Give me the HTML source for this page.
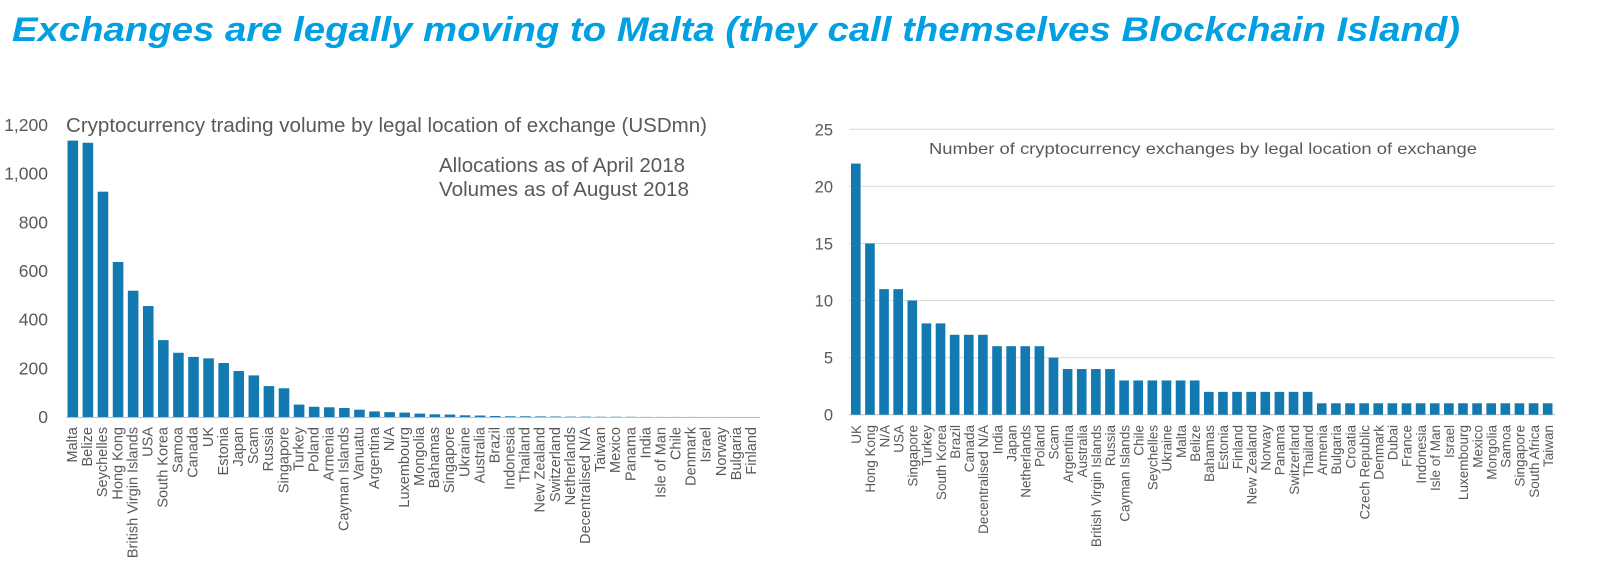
<!DOCTYPE html>
<html><head><meta charset="utf-8"><style>
html,body{margin:0;padding:0;background:#fff;}
svg{display:block;font-family:"Liberation Sans",Arial,sans-serif;}
</style></head><body>
<svg id="s" width="1600" height="568" viewBox="0 0 1600 568">
<text x="12" y="41" font-size="34" font-style="italic" font-weight="bold" fill="#00a0e3" textLength="1448" lengthAdjust="spacingAndGlyphs">Exchanges are legally moving to Malta (they call themselves Blockchain Island)</text>
<g id="left"></g>
<g id="right"></g>
</svg>
<script>
const volCategories=["Malta","Belize","Seychelles","Hong Kong","British Virgin Islands","USA","South Korea","Samoa","Canada","UK","Estonia","Japan","Scam","Russia","Singapore","Turkey","Poland","Armenia","Cayman Islands","Vanuatu","Argentina","N/A","Luxembourg","Mongolia","Bahamas","Singapore","Ukraine","Australia","Brazil","Indonesia","Thailand","New Zealand","Switzerland","Netherlands","Decentralised N/A","Taiwan","Mexico","Panama","India","Isle of Man","Chile","Denmark","Israel","Norway","Bulgaria","Finland"];
const volValues=[1136,1127,926,637,519,456,316,264,247,241,222,189,171,127,118,51,42,40,37,30,23,20,18,14,11,10,7,6,4,3,3,2.5,2,1.5,1.5,1,1,0.8,0.4,0.3,0.3,0.3,0.2,0.2,0.2,0.2];
const volTicks=[0,200,400,600,800,1000,1200];
const volTickLabels=["0","200","400","600","800","1,000","1,200"];
const cntCategories=["UK","Hong Kong","N/A","USA","Singapore","Turkey","South Korea","Brazil","Canada","Decentralised N/A","India","Japan","Netherlands","Poland","Scam","Argentina","Australia","British Virgin Islands","Russia","Cayman Islands","Chile","Seychelles","Ukraine","Malta","Belize","Bahamas","Estonia","Finland","New Zealand","Norway","Panama","Switzerland","Thailand","Armenia","Bulgaria","Croatia","Czech Republic","Denmark","Dubai","France","Indonesia","Isle of Man","Israel","Luxembourg","Mexico","Mongolia","Samoa","Singapore","South Africa","Taiwan"];
const cntValues=[22,15,11,11,10,8,8,7,7,7,6,6,6,6,5,4,4,4,4,3,3,3,3,3,3,2,2,2,2,2,2,2,2,1,1,1,1,1,1,1,1,1,1,1,1,1,1,1,1,1];
const cntTicks=[0,5,10,15,20,25];

const NS="http://www.w3.org/2000/svg";
function mk(parent,tag,attrs,text){const e=document.createElementNS(NS,tag);for(const k in attrs)e.setAttribute(k,attrs[k]);if(text!==undefined)e.textContent=text;parent.appendChild(e);return e;}

// Left chart
(function(){
  const g=document.getElementById('left');
  const x0=66,x1=760,y0=417,yTop=125,max=1200;
  const y=v=>y0-(v/max)*(y0-yTop);
  const bw=(x1-x0)/volCategories.length;
  volTicks.forEach((t,i)=>{
    const e=mk(g,'text',{x:48,y:y(t)+6,'font-size':17.5,fill:'#595959','text-anchor':'end'},volTickLabels[i]);
    
    
  });
  volValues.forEach((v,i)=>{
    const r=mk(g,'rect',{x:x0+i*bw+1.5,y:y(v),width:bw-4.5,height:y0-y(v),fill:'#1379b1'});
    
    
    const cx=x0+i*bw+bw/2-1.5+5;
    const t=mk(g,'text',{x:0,y:0,'font-size':14.5,fill:'#595959','text-anchor':'end',transform:`translate(${cx},427) rotate(-90)`},volCategories[i]);
    
    
  });
  const ax=mk(g,'line',{x1:x0,x2:x1,y1:y0+0.5,y2:y0+0.5,stroke:'#bfbfbf','stroke-width':1});
  
  
  const tt=mk(g,'text',{x:66,y:132,'font-size':20,fill:'#595959',textLength:641,lengthAdjust:'spacingAndGlyphs'},'Cryptocurrency trading volume by legal location of exchange (USDmn)');
  
  
  const n1=mk(g,'text',{x:439,y:172,'font-size':20.5,fill:'#595959',textLength:246,lengthAdjust:'spacingAndGlyphs'},'Allocations as of April 2018');
  
  
  const n2=mk(g,'text',{x:439,y:196,'font-size':20.5,fill:'#595959',textLength:250,lengthAdjust:'spacingAndGlyphs'},'Volumes as of August 2018');
  
  
})();

// Right chart
(function(){
  const g=document.getElementById('right');
  const x0=849,x1=1555,y0=414.7,yTop=129.3,max=25;
  const y=v=>y0-(v/max)*(y0-yTop);
  const bw=(x1-x0)/cntCategories.length;
  cntTicks.forEach(t=>{
    const l=mk(g,'line',{x1:x0,x2:x1,y1:y(t),y2:y(t),stroke:t===0?'#bfbfbf':'#d9d9d9','stroke-width':1});
    
    
    const e=mk(g,'text',{x:833,y:y(t)+6,'font-size':16.5,fill:'#595959','text-anchor':'end'},String(t));
    
    
  });
  cntValues.forEach((v,i)=>{
    const r=mk(g,'rect',{x:x0+i*bw+2,y:y(v),width:bw-4.5,height:y0-y(v),fill:'#1379b1'});
    
    
    const cx=x0+i*bw+bw/2+5;
    const t=mk(g,'text',{x:0,y:0,'font-size':13.5,fill:'#595959','text-anchor':'end',transform:`translate(${cx},425) rotate(-90)`},cntCategories[i]);
    
    
  });
  const tt=mk(g,'text',{x:929,y:154,'font-size':16,fill:'#595959',textLength:548,lengthAdjust:'spacingAndGlyphs'},'Number of cryptocurrency exchanges by legal location of exchange');
  
  
})();
</script>
</body></html>
